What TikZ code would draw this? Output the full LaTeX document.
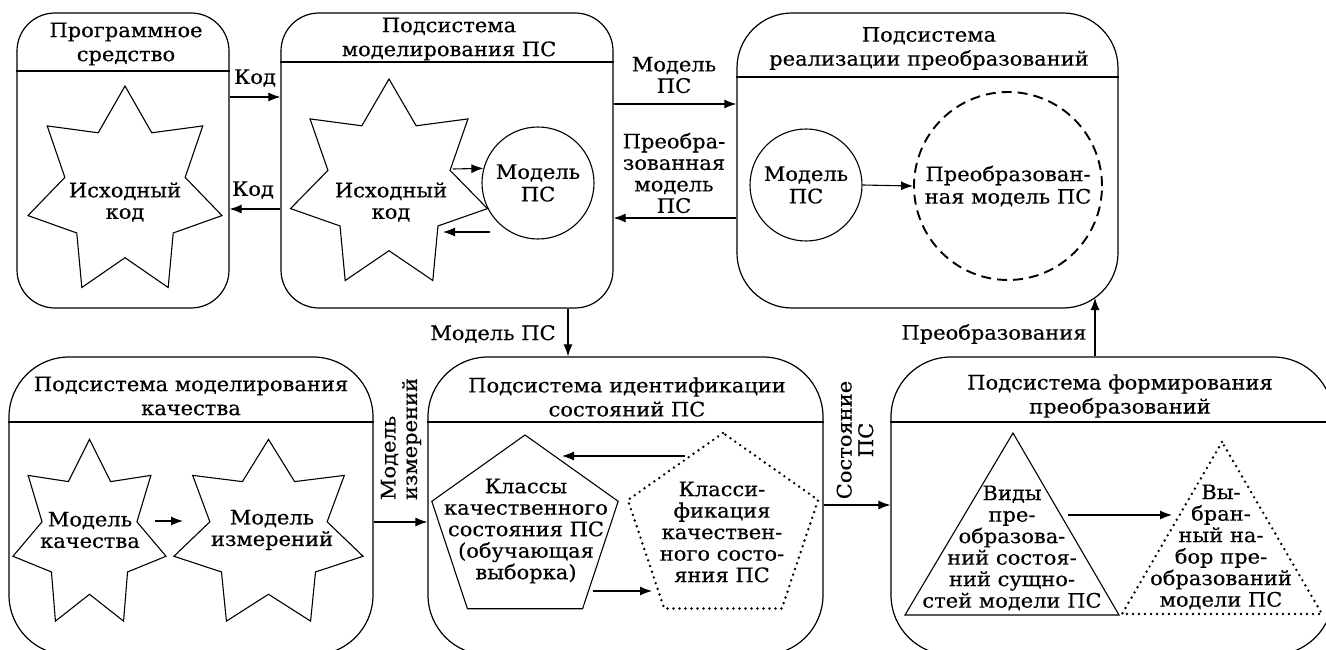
\documentclass[tikz,border=0pt]{standalone}
\usepackage{fontspec}
\setmainfont[FakeStretch=1.05,FakeBold=0.4]{DejaVu Serif}
\usetikzlibrary{arrows.meta,calc}
\tikzset{
  box/.style={draw, line width=1.2pt, rectangle, inner sep=0pt},
  hdr/.style={line width=1.2pt},
  shp/.style={draw, line width=1.1pt, line join=miter},
  dotln/.style={line width=2.7pt, dash pattern=on 0pt off 6pt, line cap=round},
  dashln/.style={line width=1.9pt, dash pattern=on 10pt off 6pt},
  arr/.style={line width=1.1pt, -{Latex[length=12pt,width=9pt]}},
  txt/.style={align=center, inner sep=0pt, font=\fontsize{20}{21.5}\selectfont},
  ttl/.style={align=center, inner sep=0pt, font=\fontsize{20}{24}\selectfont},
  circ/.style={circle, draw, line width=1.1pt, inner sep=0pt, align=center, font=\fontsize{20}{22.5}\selectfont}
}
\newcommand{\sevstar}[5][]{%
  \draw[shp,#1] plot[variable=\k, samples at={0,...,13}]
   ({#2+#4*(1-0.38*mod(\k,2))*cos(90+\k*360/14)},{#3-#5*(1-0.38*mod(\k,2))*sin(90+\k*360/14)}) -- cycle;}
\begin{document}
\begin{tikzpicture}[x=1pt,y=-1pt]
\useasboundingbox (0,0) rectangle (1326,650);
\clip (0,0) rectangle (1326,650);

% ---------- boxes ----------
\node[box, rounded corners=38pt, minimum width=212pt, minimum height=295pt] (b1) at (123,160.5) {};
\node[box, rounded corners=38pt, minimum width=332pt, minimum height=295pt] (b2) at (447,160.5) {};
\node[box, rounded corners=55pt, minimum width=381pt, minimum height=295pt] (b3) at (927.5,160.5) {};
\node[box, rounded corners=60pt, minimum width=364pt, minimum height=298pt] (b4) at (191,506) {};
\node[box, rounded corners=60pt, minimum width=395pt, minimum height=298pt] (b5) at (625.5,506) {};
\node[box, rounded corners=60pt, minimum width=442pt, minimum height=298pt] (b6) at (1112,506) {};

\coordinate (h1) at (0,71);
\coordinate (h2) at (0,62);
\coordinate (h3) at (0,77);
\coordinate (h4) at (0,422);
\draw[hdr] (b1.west |- h1) -- (b1.east |- h1);
\draw[hdr] (b2.west |- h2) -- (b2.east |- h2);
\draw[hdr] (b3.west |- h3) -- (b3.east |- h3);
\draw[hdr] (b4.west |- h4) -- (b4.east |- h4);
\draw[hdr] (b5.west |- h4) -- (b5.east |- h4);
\draw[hdr] (b6.west |- h4) -- (b6.east |- h4);

% ---------- titles ----------
\node[ttl] (t1) at (126,44) {Программное\\средство};
\node[ttl] (t2) at (449,39) {Подсистема\\моделирования ПС};
\node[ttl] (t3) at (929,48.5) {Подсистема\\реализации преобразований};
\node[ttl] (t4) at (191,396) {Подсистема моделирования\\качества};
\node[ttl] (t5) at (627,397) {Подсистема идентификации\\состояний ПС};
\node[ttl] (t6) at (1120,396) {Подсистема формирования\\преобразований};

% ---------- box 1 ----------
\sevstar{125}{192}{99.5}{106}
\node[txt] (s1) at (125,202) {Исходный\\код};

% ---------- box 2 ----------
\sevstar{389}{185}{101}{106}
\node[txt] (s2) at (391,202) {Исходный\\код};
\node[circ, minimum size=112pt] (c2) at (538,183) {Модель\\ПС};
\coordinate (a2s) at (453,169);
\coordinate (a2b) at (490,232);
\coordinate (a2e) at (443,232);
\draw[arr] (a2s) -- (c2.165);
\draw[arr] (a2b) -- (a2e);

% ---------- box 3 ----------
\node[circ, minimum size=112pt] (c3) at (806,185) {Модель\\ПС};
\node[circ, dashln, minimum size=188pt] (c4) at (1008,186) {Преобразован-\\ная модель ПС};
\draw[arr] (c3.east) -- (c4.west);

% ---------- box 4 ----------
\sevstar{89.5}{535}{78.5}{95.6}
\node[txt] (sa) at (90,530) {Модель\\качества};
\sevstar{268.5}{535}{97}{95.6}
\node[txt] (sb) at (272,530) {Модель\\измерений};
\coordinate (a4s) at (155,521);
\coordinate (a4e) at (183,521);
\draw[arr] (a4s) -- (a4e);

% ---------- box 5 ----------
\draw[shp] (525,435) -- (431.8,501.3) -- (467.4,608.7) -- (582.6,608.7) -- (618.2,501.3) -- cycle;
\node[txt] (p1) at (526,531) {Классы\\качественного\\состояния ПС\\(обучающая\\выборка)};
\draw[dotln] (723,433) -- (627.9,500) -- (664.2,608.5) -- (781.8,608.5) -- (818.1,500) -- cycle;
\node[txt] (p2) at (722,532) {Класси-\\фикация\\качествен-\\ного состо-\\яния ПС};
\coordinate (a5s) at (685,456);
\coordinate (a5e) at (562,456);
\coordinate (a5b) at (593,591);
\coordinate (a5f) at (652,591);
\draw[arr] (a5s) -- (a5e);
\draw[arr] (a5b) -- (a5f);

% ---------- box 6 ----------
\draw[shp] (1013,433) -- (905,615) -- (1119,615) -- cycle;
\node[txt] (q1) at (1012,548) {Виды\\пре-\\образова-\\ний состоя-\\ний сущно-\\стей модели ПС};
\draw[dotln] (1222,442) -- (1122,614) -- (1322,614) -- cycle;
\node[txt] (q2) at (1221,547) {Вы-\\бран-\\ный на-\\бор пре-\\образований\\модели ПС};
\coordinate (a6s) at (1068,515);
\coordinate (a6e) at (1172,515);
\draw[arr] (a6s) -- (a6e);

% ---------- connectors between boxes ----------
\coordinate (y1) at (0,97);
\coordinate (y2) at (0,209);
\coordinate (y3) at (0,104);
\coordinate (y4) at (0,218);
\coordinate (y5) at (0,522);
\coordinate (y6) at (0,505);
\coordinate (x1) at (568,0);
\coordinate (x2) at (1095,0);
\coordinate (tip3) at (1095,298);

\draw[arr] (b1.east |- y1) -- (b2.west |- y1);
\node[txt] (l1) at (255,78) {Код};
\draw[arr] (b2.west |- y2) -- (b1.east |- y2);
\node[txt] (l2) at (253,190) {Код};

\draw[arr] (b2.east |- y3) -- (b3.west |- y3);
\node[txt] (l3) at (674,75) {Модель\\ПС};
\draw[arr] (b3.west |- y4) -- (b2.east |- y4);
\node[txt] (l4) at (674,173) {Преобра-\\зованная\\модель\\ПС};

\draw[arr] (b2.south -| x1) -- (b5.north -| x1);
\node[txt] (l5) at (493,334) {Модель ПС};

\draw[arr] (b6.north -| x2) -- (tip3);
\node[txt] (l6) at (994,334) {Преобразования};

\draw[arr] (b4.east |- y5) -- (b5.west |- y5);
\node[txt, rotate=90, align=left] (l7) at (401,439) {Модель\\измерений};

\draw[arr] (b5.east |- y6) -- (b6.west |- y6);
\node[txt, rotate=90] (l8) at (855,440) {Состояние\\ПС};
\end{tikzpicture}
\end{document}
